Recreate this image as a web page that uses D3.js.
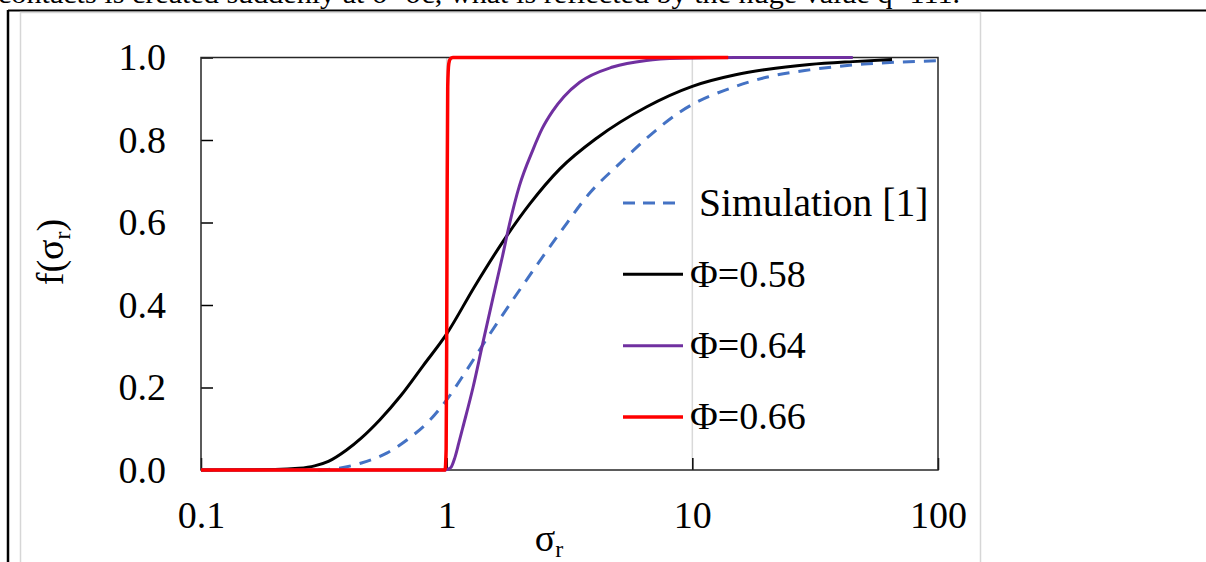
<!DOCTYPE html>
<html>
<head>
<meta charset="utf-8">
<script src="https://cdn.jsdelivr.net/npm/d3@7"></script>
<style>
  html, body { margin: 0; padding: 0; background: #fff; overflow: hidden; }
  svg { display: block; font-family: "Liberation Serif", "Times New Roman", serif; }
</style>
</head>
<body>
<div id="chart"></div>
<script>
// values (sigma_r, f)
const simSigma = [0.3, 0.37, 0.45, 0.57, 0.7, 0.855, 1, 1.2, 1.5, 2, 2.89, 3.83, 5.08, 6.54, 8.9, 15, 20, 30, 50, 100]
const simF     = [0, 0.005, 0.017, 0.041, 0.076, 0.121, 0.17, 0.24, 0.33, 0.44, 0.575, 0.672, 0.744, 0.805, 0.868, 0.93, 0.952, 0.97, 0.984, 0.992]

const phi58Sigma = [0.1, 0.2, 0.25, 0.29, 0.33, 0.39, 0.45, 0.535, 0.65, 0.8, 1, 1.3, 1.7, 2.18, 2.89, 4.09, 6.5, 10, 15, 20, 30, 45, 65]
const phi58F     = [0, 0.001, 0.004, 0.01, 0.021, 0.048, 0.078, 0.122, 0.18, 0.252, 0.33, 0.445, 0.555, 0.645, 0.73, 0.805, 0.88, 0.93, 0.958, 0.971, 0.983, 0.99, 0.995]

const phi64Sigma = [0.1, 0.99, 1, 1.04, 1.08, 1.12, 1.16, 1.28, 1.4, 1.54, 1.69, 1.8, 1.98, 2.24, 2.45, 2.7, 3.0, 3.48, 4.74, 6.5, 8.9, 15, 30, 45]
const phi64F     = [0, 0, 0.001, 0.006, 0.03, 0.065, 0.1, 0.2, 0.305, 0.415, 0.52, 0.595, 0.69, 0.775, 0.828, 0.87, 0.905, 0.94, 0.977, 0.993, 0.998, 1, 1, 1]

const phi66Sigma = [0.1, 0.985, 0.995, 1.0, 1.005, 1.01, 1.02, 1.035, 1.06, 14]
const phi66F     = [0, 0, 0.05, 0.3, 0.7, 0.93, 0.985, 0.997, 1, 1]

const seriesNames  = ["Simulation [1]", "\u03A6=0.58", "\u03A6=0.64", "\u03A6=0.66"]
const seriesColors = ["#4472c4", "#000000", "#7030a0", "#ff0000"]
const seriesDash   = ["12,9", null, null, null]
const seriesWidth  = [3, 3, 3, 3.5]

const xTicks = [0.1, 1, 10, 100]
const yTicks = [0, 0.2, 0.4, 0.6, 0.8, 1.0]

const series = [
  { sigma: simSigma, f: simF },
  { sigma: phi58Sigma, f: phi58F },
  { sigma: phi64Sigma, f: phi64F },
  { sigma: phi66Sigma, f: phi66F }
].map((s, i) => ({
  name: seriesNames[i],
  color: seriesColors[i],
  dash: seriesDash[i],
  width: seriesWidth[i],
  points: s.sigma.map((v, j) => [v, s.f[j]])
}))

const width = 1206
const height = 562
const fontSize = 38

const svg = d3.select("#chart")
  .append("svg")
  .attr("width", width)
  .attr("height", height)
  .attr("viewBox", [0, 0, width, height])

// page fragment above and around the figure (cut at the top, as in the source)
svg.append("text")
  .attr("x", -2)
  .attr("y", 3)
  .attr("font-size", 28)
  .attr("textLength", 962)
  .attr("lengthAdjust", "spacingAndGlyphs")
  .attr("fill", "#000")
  .text("contacts is created suddenly at \u03C3=\u03C3c, what is reflected by the huge value q=111.")

svg.append("line")
  .attr("x1", 8).attr("x2", width)
  .attr("y1", 10.5).attr("y2", 10.5)
  .attr("stroke", "#000").attr("stroke-width", 2)

svg.append("line")
  .attr("x1", 8).attr("x2", 8)
  .attr("y1", 10).attr("y2", height)
  .attr("stroke", "#000").attr("stroke-width", 2.5)

svg.append("rect")
  .attr("x", 20.5).attr("y", 12.5)
  .attr("width", 960).attr("height", 600)
  .attr("fill", "#fff")
  .attr("stroke", "#d6d6d6").attr("stroke-width", 1.5)

const margin = { left: 201, right: 938, top: 57.5, bottom: 470 }

const x = d3.scaleLog()
  .domain([0.1, 100])
  .range([margin.left, margin.right])

const y = d3.scaleLinear()
  .domain([0, 1])
  .range([margin.bottom, margin.top])

// vertical gridlines
svg.append("g")
  .selectAll("line")
  .data(xTicks.slice(1, -1))
  .join("line")
  .attr("x1", d => x(d)).attr("x2", d => x(d))
  .attr("y1", y(1)).attr("y2", y(0))
  .attr("stroke", "#d9d9d9")
  .attr("stroke-width", 1.5)

// axes with inward ticks
const yAxis = svg.append("g")
  .attr("transform", `translate(${margin.left},0)`)
  .call(d3.axisLeft(y).tickValues(yTicks).tickFormat(d3.format(".1f")).tickSize(-12).tickPadding(35))

const xAxis = svg.append("g")
  .attr("transform", `translate(0,${margin.bottom})`)
  .call(d3.axisBottom(x).tickValues(xTicks).tickFormat(d => String(d)).tickSize(-12).tickPadding(31))

for (const ax of [xAxis, yAxis]) {
  ax.select(".domain").remove()
  ax.attr("font-family", null).attr("font-size", null)
  ax.selectAll(".tick line").attr("stroke", "#000").attr("stroke-width", 1.5)
  ax.selectAll(".tick text").attr("fill", "#000").attr("font-size", fontSize)
}

// plot frame
svg.append("rect")
  .attr("x", margin.left).attr("y", margin.top)
  .attr("width", margin.right - margin.left)
  .attr("height", margin.bottom - margin.top)
  .attr("fill", "none")
  .attr("stroke", "#262626")
  .attr("stroke-width", 1.5)

const line = d3.line()
  .x(d => x(d[0]))
  .y(d => y(d[1]))
  .curve(d3.curveMonotoneX)

svg.append("g")
  .selectAll("path")
  .data(series)
  .join("path")
  .attr("d", d => line(d.points))
  .attr("fill", "none")
  .attr("stroke", d => d.color)
  .attr("stroke-width", d => d.width)
  .attr("stroke-dasharray", d => d.dash)
  .attr("stroke-linejoin", "round")

// legend
const legendY = d3.scalePoint()
  .domain(seriesNames)
  .range([203, 417])

const legend = svg.append("g")
  .selectAll("g")
  .data(series)
  .join("g")
  .attr("transform", d => `translate(623,${legendY(d.name)})`)

legend.append("line")
  .attr("x1", 0).attr("x2", 60)
  .attr("stroke", d => d.color)
  .attr("stroke-width", d => d.width)
  .attr("stroke-dasharray", d => d.dash ? "12,8" : null)

legend.append("text")
  .attr("x", (d, i) => i === 0 ? 76 : 67)
  .attr("dy", "0.32em")
  .attr("font-size", (d, i) => i === 0 ? 39.5 : fontSize)
  .attr("fill", "#000")
  .text(d => d.name)

// axis titles
const yTitle = svg.append("text")
  .attr("transform", "translate(63,252) rotate(-90)")
  .attr("text-anchor", "middle")
  .attr("font-size", fontSize)
  .attr("fill", "#000")
yTitle.append("tspan").text("f(\u03C3")
yTitle.append("tspan").attr("font-size", 24).attr("dy", 7).text("r")
yTitle.append("tspan").attr("dy", -7).text(")")

const xTitle = svg.append("text")
  .attr("x", 549)
  .attr("y", 551)
  .attr("text-anchor", "middle")
  .attr("font-size", fontSize)
  .attr("fill", "#000")
xTitle.append("tspan").text("\u03C3")
xTitle.append("tspan").attr("font-size", 24).attr("dy", 6).text("r")
</script>
</body>
</html>
